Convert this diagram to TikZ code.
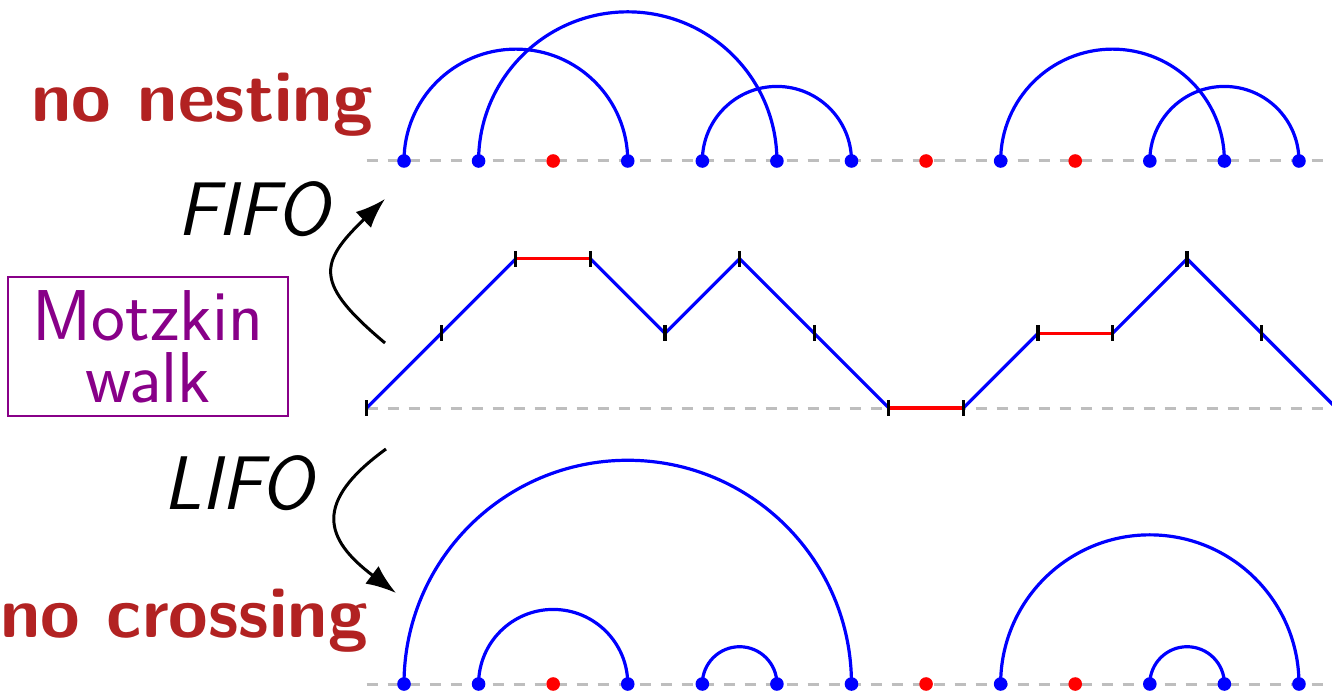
\documentclass[tikz,border=0pt]{standalone}
\usetikzlibrary{arrows.meta,calc}
\definecolor{titlered}{RGB}{178,34,34}
\definecolor{motzpurple}{RGB}{136,0,136}
\definecolor{baseg}{RGB}{190,190,190}
\tikzset{
  baseline dash/.style={draw=baseg, line width=1.5pt, dash pattern=on 5.5pt off 5pt},
  arcline/.style={draw=blue, line width=1.6pt},
  updown/.style={draw=blue, line width=1.6pt},
  flatstep/.style={draw=red, line width=1.6pt},
  tickmark/.style={draw=black, line width=1.6pt},
  bluedot/.style={circle, fill=blue, inner sep=0pt, minimum size=6.8pt},
  reddot/.style={circle, fill=red, inner sep=0pt, minimum size=6.8pt},
  title/.style={text=titlered, font=\fontsize{36}{40}\selectfont\sffamily\bfseries, anchor=base, inner sep=0pt},
  rule/.style={font=\fontsize{38}{40}\selectfont\sffamily\itshape, anchor=base, inner sep=0pt},
  bend arrow/.style={draw=black, line width=1.5pt, -{Latex[length=15pt,width=11pt]}},
  motzbox/.style={draw=motzpurple, line width=1.3pt, text=motzpurple, align=center,
    font=\fontsize{36}{31}\selectfont\sffamily, minimum width=140pt, minimum height=69.5pt, inner sep=0pt}
}
\begin{document}
\begin{tikzpicture}[x=0.5pt,y=0.5pt]
\useasboundingbox (0,0) rectangle (1332,692);
\def\u{74.58}
% baselines
\coordinate (topL) at (366.7,531);
\coordinate (topR) at (1345,531);
\coordinate (midL) at (366.7,284);
\coordinate (midR) at (1345,284);
\coordinate (botL) at (366.7,8);
\coordinate (botR) at (1345,8);
\draw[baseline dash] (topL) -- (topR);
\draw[baseline dash] (midL) -- (midR);
\draw[baseline dash] (botL) -- (botR);
% walk points
\foreach \h [count=\i from 0] in {0,1,2,2,1,2,1,0,0,1,1,2,1,0}
  \coordinate (w\i) at (366.7+\i*\u, 284+\h*\u);
% walk steps
\foreach \a/\b/\s in {0/1/updown,1/2/updown,2/3/flatstep,3/4/updown,4/5/updown,5/6/updown,6/7/updown,7/8/flatstep,8/9/updown,9/10/flatstep,10/11/updown,11/12/updown,12/13/updown}
  \draw[\s] (w\a) -- (w\b);
% ticks
\foreach \i in {0,...,13}
  \draw[tickmark] ($(w\i)+(0,8)$) -- ($(w\i)+(0,-8)$);
% arcs
\foreach \i in {0,...,12}{
  \coordinate (t\i) at (404+\i*\u, 531);
  \coordinate (b\i) at (404+\i*\u, 8);
}
% FIFO (no nesting)
\foreach \a/\b in {0/3,1/5,4/6,8/11,10/12}
  \draw[arcline] let \p1=(t\a), \p2=(t\b) in (\p1) arc[start angle=180, end angle=0, radius={(\x2-\x1)/2}];
% LIFO (no crossing)
\foreach \a/\b in {1/3,4/5,0/6,10/11,8/12}
  \draw[arcline] let \p1=(b\a), \p2=(b\b) in (\p1) arc[start angle=180, end angle=0, radius={(\x2-\x1)/2}];
% dots
\foreach \i in {0,...,12}{
  \ifnum\i=2 \def\st{reddot}\else\ifnum\i=7 \def\st{reddot}\else\ifnum\i=9 \def\st{reddot}\else\def\st{bluedot}\fi\fi\fi
  \node[\st] (td\i) at (t\i) {};
  \node[\st] (bd\i) at (b\i) {};
}
% labels
\node[title] (nonest) at (202,570) {no nesting};
\node[title] (nocross) at (184,55) {no crossing};
\node[rule] (fifo) at (253,457) {FIFO};
\node[rule] (lifo) at (238,183) {LIFO};
\node[motzbox] (motz) at (148,345.5) {Motzkin\\walk};
% arrows
\coordinate (fa) at (385,349);
\coordinate (fb) at (385,493);
\coordinate (la) at (386,243);
\coordinate (lb) at (396,99);
\draw[bend arrow] (fa) to[out=140, in=-136, looseness=1.65] (fb);
\draw[bend arrow] (la) to[out=216, in=143, looseness=1.6] (lb);
\end{tikzpicture}
\end{document}
